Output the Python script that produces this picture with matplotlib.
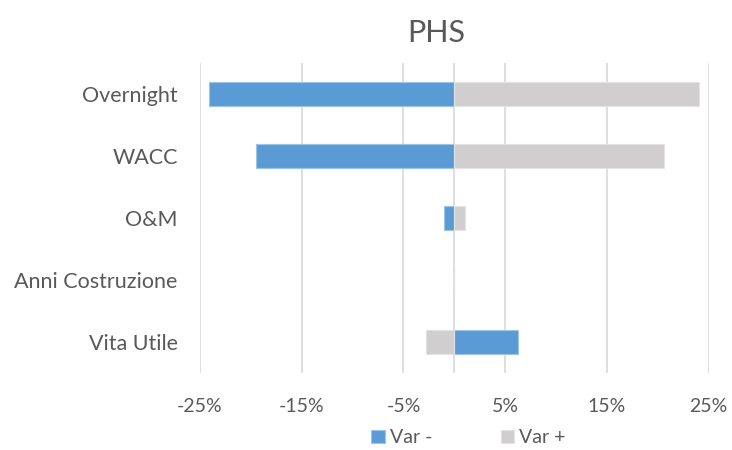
import matplotlib.pyplot as plt
import numpy as np

categories = ["Overnight", "WACC", "O&M", "Anni Costruzione", "Vita Utile"]
var_minus = [-24.1, -19.5, -1.0, 0.0, 6.3]
var_plus = [24.0, 20.6, 1.0, 0.0, -2.8]
ticks = [-25, -15, -5, 5, 15, 25]

plt.rcParams['font.family'] = ['Lato', 'DejaVu Sans']
text_col = '#595959'

fig = plt.figure(figsize=(7.32, 4.5), dpi=100)
ax = fig.add_axes([0.2732, 0.1711, 0.695, 0.689])

y = np.arange(len(categories))
ax.barh(y, var_minus, height=0.39, color='#5B9BD5', edgecolor='#9DC3E6', linewidth=0.8, label='Var -', zorder=3)
ax.barh(y, var_plus, height=0.39, color='#D0CECE', edgecolor='#E4E3E3', linewidth=0.8, label='Var +', zorder=3)

ax.set_xlim(-25, 25)
ax.set_ylim(len(categories) - 0.5, -0.5)
ax.set_xticks(ticks)
ax.set_xticklabels([f"{t}%" for t in ticks])
ax.set_yticks(y)
ax.set_yticklabels(categories)

for t in ticks + [0]:
    ax.axvline(t, color='#D9D9D9', linewidth=1.2, zorder=1)

for s in ax.spines.values():
    s.set_visible(False)
ax.tick_params(axis='both', length=0, labelsize=14, colors=text_col)
ax.tick_params(axis='y', labelsize=15.5, pad=16)
ax.tick_params(axis='x', pad=18)

fig.text(0.596, 0.927, "PHS", fontsize=22, color=text_col, ha='center', va='center')

leg = fig.legend(loc='center', bbox_to_anchor=(0.64, 0.027), ncol=2, frameon=False,
                 fontsize=14, handlelength=0.7, handleheight=0.7, handletextpad=0.25,
                 columnspacing=3.5, labelcolor=text_col)

fig.savefig("out.png", dpi=100)
plt.close(fig)
